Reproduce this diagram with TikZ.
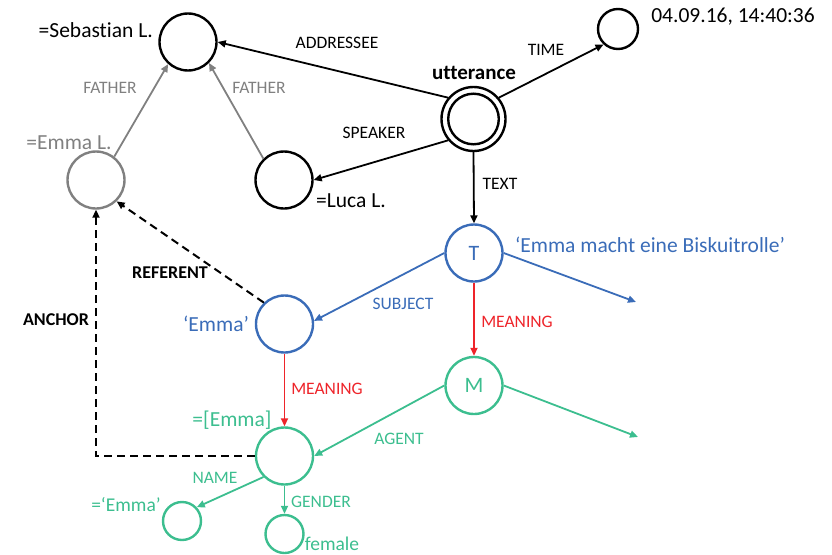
\documentclass[tikz,border=0pt]{standalone}
\usepackage{fontspec}
\setmainfont[Ligatures={NoCommon}]{Carlito}
\usetikzlibrary{arrows.meta}
\definecolor{cblue}{RGB}{58,108,184}
\definecolor{cgreen}{RGB}{60,190,143}
\definecolor{cred}{RGB}{238,36,42}
\definecolor{cgray}{RGB}{128,128,128}
\tikzset{
  nd/.style={circle, draw, line width=2.4pt, inner sep=0pt, minimum size=#1},
  nd/.default=57pt,
  edge/.style={line width=1.8pt, -{Triangle[length=8pt,width=7pt]}},
  dashedge/.style={edge, line width=2pt, dash pattern=on 8pt off 5pt},
  big/.style={font=\fontsize{21.5}{24}\selectfont, inner sep=0pt},
  mid/.style={font=\fontsize{19.5}{22}\selectfont, inner sep=0pt},
  lab/.style={font=\fontsize{17.5}{19}\selectfont, inner sep=0pt},
  blab/.style={font=\fontsize{18}{19}\selectfont\bfseries, inner sep=0pt},
}
\begin{document}
\begin{tikzpicture}[x=1pt,y=-1pt]
\useasboundingbox (0,0) rectangle (832,554);
% nodes
\node[nd] (seb) at (188,42) {};
\node[nd, draw=cgray] (eL) at (96,180) {};
\node[nd] (luca) at (284,180) {};
\node[nd=64pt] (ut) at (473.5,119) {};
\draw[line width=2.4pt] (ut.center) circle (25.3pt);
\node[nd=40pt] (time) at (618,29) {};
\node[nd, draw=cblue, text=cblue, font=\fontsize{22}{24}\selectfont] (T) at (474,253) {T};
\node[nd, draw=cgreen, text=cgreen, font=\fontsize{22}{24}\selectfont] (M) at (474,385.5) {M};
\node[nd, draw=cblue] (eB) at (284.5,324) {};
\node[nd, draw=cgreen] (eM) at (284.5,456) {};
\node[nd=38pt, draw=cgreen] (nm) at (182,521) {};
\node[nd=38pt, draw=cgreen] (fem) at (284.5,534) {};
\coordinate (tend) at (636,302);
\coordinate (mend) at (638,437);
% edges
\draw[edge] (ut.140) -- (seb.east);
\draw[edge] (ut.220) -- (luca.east);
\draw[edge] (ut.40) -- (time.227);
\draw[edge] (ut.south) -- (T.north);
\draw[edge, cgray] (eL.52) -- (seb.228);
\draw[edge, cgray] (luca.134) -- (seb.315);
\draw[edge, cblue] (T.west) -- (eB.6);
\draw[edge, cblue] (T.east) -- (tend);
\draw[edge, cred] (T.south) -- (M.north);
\draw[edge, cred] (eB.south) -- (eM.north);
\draw[edge, cgreen] (M.west) -- (eM.east);
\draw[edge, cgreen] (M.east) -- (mend);
\draw[edge, cgreen] (eM.225) -- (nm.43);
\draw[edge, cgreen] (eM.south) -- (fem.north);
\draw[dashedge] (eB.134) -- (eL.314);
\draw[dashedge] (eM.west) -| (eL.south);
% labels
\node[big, anchor=east] (tseb) at (153,30) {=Sebastian L.};
\node[big, text=cgray] (teL) at (69,143) {=Emma L.};
\node[big] (tluca) at (351,201) {=Luca L.};
\node[big, font=\fontsize{21}{24}\selectfont\bfseries] (tut) at (474,73) {utterance};
\node[big] (ttime) at (733,17) {04.09.16, 14:40:36};
\node[big, text=cblue] (tsent) at (650,245) {‘Emma macht eine Biskuitrolle’};
\node[big, text=cblue] (teB) at (216,324) {‘Emma’};
\node[big, text=cgreen] (teM) at (232,420) {=[Emma]};
\node[mid, text=cgreen] (tnm) at (126,505) {=‘Emma’};
\node[mid, text=cgreen] (tfem) at (332,544) {female};
\node[lab] (laddr) at (337,43) {ADDRESSEE};
\node[lab, text=cgray] (lfa1) at (110,88) {FATHER};
\node[lab, text=cgray] (lfa2) at (259,88) {FATHER};
\node[lab] (lspk) at (374,133) {SPEAKER};
\node[lab] (ltime) at (546,50) {TIME};
\node[lab] (ltext) at (500,184) {TEXT};
\node[lab, text=cblue] (lsubj) at (403,304) {SUBJECT};
\node[lab, text=cred] (lmean1) at (517,322) {MEANING};
\node[lab, text=cred] (lmean2) at (327,389) {MEANING};
\node[lab, text=cgreen] (lagent) at (399,439) {AGENT};
\node[lab, text=cgreen] (lname) at (215,478) {NAME};
\node[lab, text=cgreen] (lgender) at (321,502) {GENDER};
\node[blab] (lref) at (170,273) {REFERENT};
\node[blab] (lanch) at (56,320) {ANCHOR};
\end{tikzpicture}
\end{document}
